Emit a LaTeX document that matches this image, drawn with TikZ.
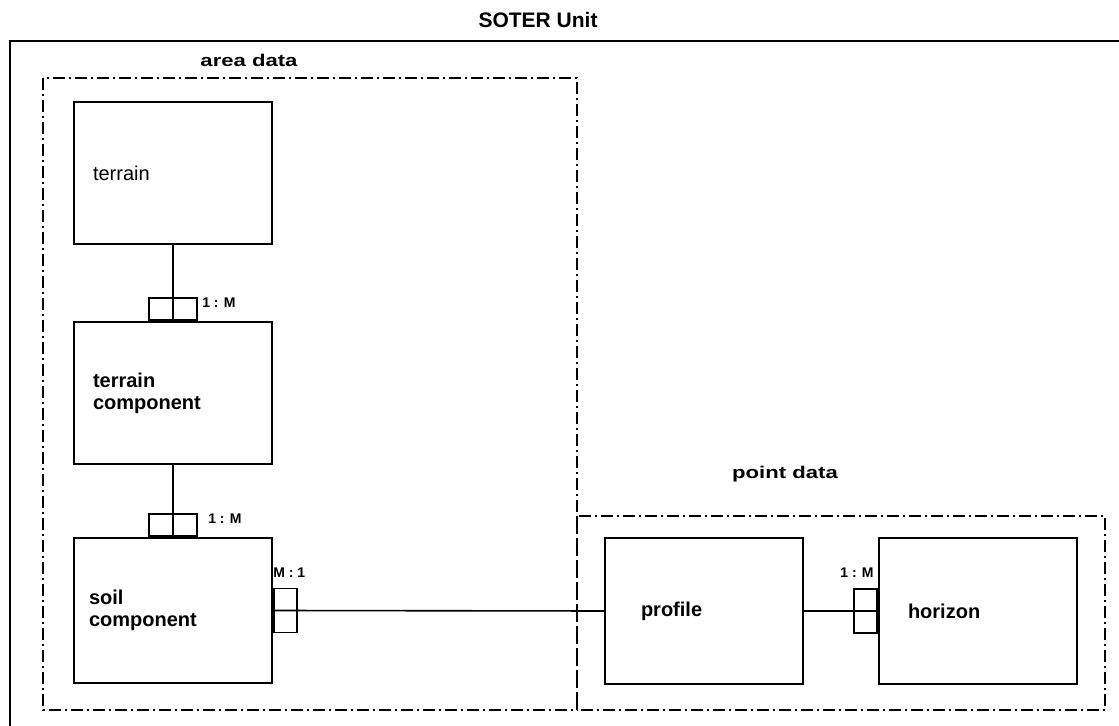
\documentclass[tikz,border=0pt]{standalone}
\usepackage{fontspec}
\setmainfont{Liberation Sans}
\newfontfamily\widefont[FakeStretch=1.3]{Liberation Sans}
\usetikzlibrary{positioning}

\tikzset{
  entity/.style={draw, line width=1pt, minimum width=99pt, minimum height=71pt,
    anchor=north west, align=left, text width=80pt, inner xsep=9.5pt,
    font=\bfseries\fontsize{10}{11}\selectfont},
  crowtop/.style={draw, line width=0.9pt, minimum width=24pt, minimum height=11pt,
    inner sep=0pt, anchor=south},
  crowside/.style={draw, line width=0.9pt, minimum width=11.5pt, minimum height=22pt,
    inner sep=0pt},
  ratio/.style={font=\bfseries\fontsize{7}{8}\selectfont, inner sep=0pt},
  grouplab/.style={font=\widefont\bfseries\fontsize{8.5}{10}\selectfont, inner sep=0pt},
  dashdot/.style={line width=1pt, dash pattern=on 6pt off 2pt on 1pt off 2pt},
  link/.style={line width=0.8pt}
}

\begin{document}
\begin{tikzpicture}[x=0.5pt, y=-0.5pt]
  \useasboundingbox (0,0) rectangle (1119,726);

  % frame and title
  \draw[line width=1.2pt] (1119,41) -- (10,41) -- (10,726);
  \node[font=\bfseries\fontsize{10.5}{12}\selectfont] (title) at (538,20) {SOTER Unit};

  % groups
  \draw[dashdot] (43,78) rectangle (577,710);
  \draw[dashdot] (577,516) rectangle (1105,710);
  \node[grouplab] (area) at (249,60) {area data};
  \node[grouplab] (point) at (785,474) {point data};

  % entities
  \node[entity, font=\fontsize{10}{11}\selectfont] (terrain) at (73,101) {terrain};
  \node[entity] (tcomp) at (73,321) {terrain\\component};
  \node[entity, minimum height=72.5pt, inner xsep=7.5pt, text width=84pt] (scomp) at (73,537) {soil\\component};
  \node[entity, minimum height=73pt, text width=63pt, inner xsep=18pt] (profile) at (604,537) {profile};
  \node[entity, minimum height=73pt, text width=70pt, inner xsep=14.5pt] (horizon) at (878,537) {horizon};

  % many-sides
  \node[crowtop] (crowtc) at (tcomp.north) {};
  \node[crowtop] (crowsc) at (scomp.north) {};
  \node[crowside, anchor=west] (crowsp) at (scomp.east) {};
  \node[crowside, anchor=east] (crowhz) at (horizon.west) {};

  % relations
  \draw[link] (terrain.south) -- (tcomp.north);
  \draw[link] (tcomp.south) -- (scomp.north);
  \draw[link] (scomp.east) -- (profile.west);
  \draw[link] (profile.east) -- (horizon.west);

  % cardinalities
  \node[ratio, anchor=north west] (r1) at ([xshift=2pt]crowtc.north east) {1 : M};
  \node[ratio, anchor=north west] (r2) at ([xshift=5pt]crowsc.north east) {1 : M};
  \node[ratio, anchor=south west] (r3) at ([yshift=5pt]crowsp.north west) {M : 1};
  \node[ratio, anchor=south east] (r4) at ([xshift=-2pt, yshift=5pt]crowhz.north east) {1 : M};
\end{tikzpicture}
\end{document}
